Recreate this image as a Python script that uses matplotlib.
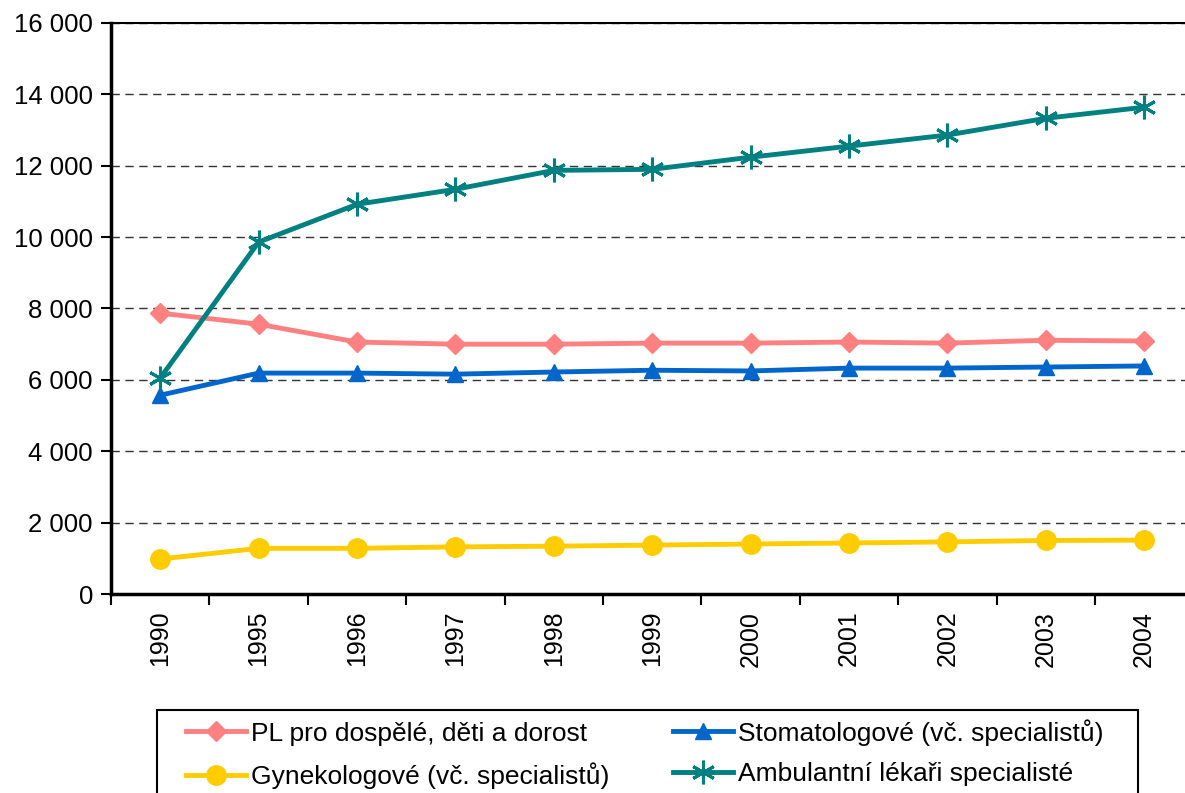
import matplotlib.pyplot as plt
from matplotlib.patches import Rectangle
from matplotlib.ticker import FixedLocator, FuncFormatter

plt.rcParams['font.family'] = ['Liberation Sans', 'DejaVu Sans']

years = ['1990', '1995', '1996', '1997', '1998', '1999', '2000', '2001', '2002', '2003', '2004']
pl = [7870, 7560, 7060, 7000, 7000, 7030, 7030, 7060, 7030, 7110, 7090]
stomat = [5570, 6190, 6190, 6160, 6220, 6270, 6250, 6330, 6330, 6360, 6390]
gyn = [980, 1280, 1280, 1320, 1340, 1370, 1400, 1430, 1460, 1500, 1510]
ambul = [6050, 9860, 10920, 11340, 11870, 11900, 12240, 12550, 12860, 13330, 13640]

labels = ['PL pro dospělé, děti a dorost', 'Stomatologové (vč. specialistů)',
          'Gynekologové (vč. specialistů)', 'Ambulantní lékaři specialisté']

W, H = 1185, 793
fig = plt.figure(figsize=(W / 100, H / 100), dpi=100)
ax = fig.add_axes([111 / W, 1 - 594 / H, 11 * 98.4 / W, (594 - 23) / H])

x = list(range(len(years)))
l1, = ax.plot(x, pl, color='#FF8080', lw=3.5, marker='D', ms=10, zorder=3)
l2, = ax.plot(x, stomat, color='#0066CC', lw=3.5, marker='^', ms=11, zorder=3)
l3, = ax.plot(x, gyn, color='#FFCC00', lw=3.5, marker='o', ms=14, zorder=3)
l4, = ax.plot(x, ambul, color='#008080', lw=3.5, marker=(6, 2, 0), ms=17, mew=2.2, zorder=4)

ax.set_xlim(-0.5, len(years) - 0.5)
ax.set_ylim(0, 16000)
ax.set_yticks(range(0, 16001, 2000))
ax.yaxis.set_major_formatter(FuncFormatter(lambda v, p: f"{int(v):,}".replace(",", " ")))
ax.yaxis.grid(True, linestyle=(0, (6, 4)), color='#333333', lw=1)
ax.set_axisbelow(True)

ax.xaxis.set_major_locator(FixedLocator([i - 0.5 for i in range(len(years) + 1)]))
ax.xaxis.set_major_formatter(FuncFormatter(lambda v, p: ''))
ax.set_xticks(x, minor=True)
ax.set_xticklabels(years, minor=True, rotation=90)
ax.tick_params(axis='x', which='minor', length=0, pad=12, labelsize=18)
ax.tick_params(axis='x', which='major', length=8, width=1.5, direction='out')
ax.tick_params(axis='y', length=7, width=1.5, labelsize=18.5, pad=6)

ax.spines['right'].set_visible(False)
ax.spines['top'].set_linewidth(1.5)
ax.spines['left'].set_linewidth(2.5)
ax.spines['bottom'].set_linewidth(2.5)

# legend box
fig.patches.append(Rectangle((157 / W, -0.05), (1138 - 157) / W, 0.05 + 1 - 710 / H,
                             transform=fig.transFigure, fill=False, ec='black', lw=1.5))
leg = fig.legend([l1, l3, l2, l4], [labels[0], labels[2], labels[1], labels[3]],
                 ncol=2, loc='upper left', bbox_to_anchor=(186 / W, 1 - 719 / H),
                 fontsize=19, frameon=False, handlelength=2.27, columnspacing=2.4,
                 borderaxespad=0, borderpad=0, labelspacing=0.62, handletextpad=0.2)

fig.savefig('out.png', dpi=100)
